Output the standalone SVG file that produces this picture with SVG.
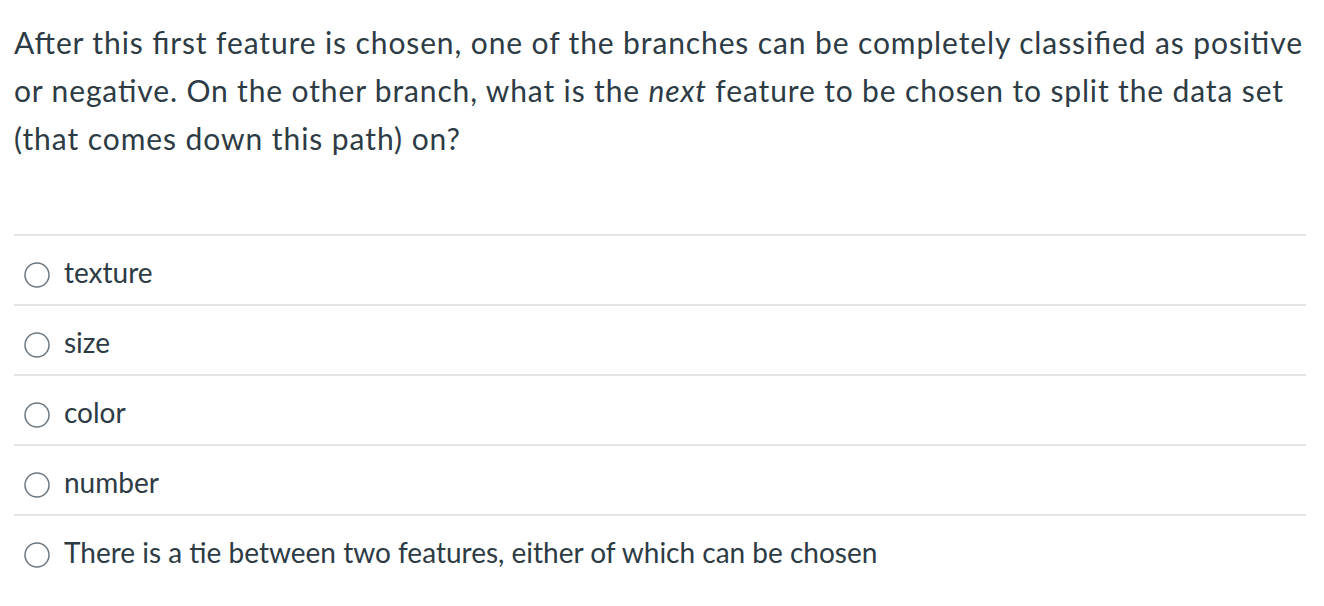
<svg xmlns="http://www.w3.org/2000/svg" width="1324" height="606" viewBox="0 0 1324 606">
<style>
.q{font-family:Lato,"Liberation Sans",sans-serif;font-size:30px;fill:#2d3b45}
.o{font-family:Lato,"Liberation Sans",sans-serif;font-size:28px;fill:#2d3b45}
.sep{stroke:#dcdcdc;stroke-width:1.5}
.r{fill:#fff;stroke:#6b7780;stroke-width:1.5}
</style>
<rect width="1324" height="606" fill="#fff"/>
<text class="q" x="14" y="54" textLength="1288" lengthAdjust="spacing">After this first feature is chosen, one of the branches can be completely classified as positive</text>
<text class="q" x="14" y="102" textLength="1269" lengthAdjust="spacing">or negative. On the other branch, what is the <tspan font-style="italic">next</tspan> feature to be chosen to split the data set</text>
<text class="q" x="14" y="150" textLength="446" lengthAdjust="spacing">(that comes down this path) on?</text>
<g>
<line class="sep" x1="14" y1="235" x2="1306" y2="235"/>
<line class="sep" x1="14" y1="305" x2="1306" y2="305"/>
<line class="sep" x1="14" y1="375" x2="1306" y2="375"/>
<line class="sep" x1="14" y1="445" x2="1306" y2="445"/>
<line class="sep" x1="14" y1="515" x2="1306" y2="515"/>
</g>
<g id="opt1"><circle class="r" cx="37" cy="275" r="12"/><text class="o" x="64" y="283">texture</text></g>
<g id="opt2"><circle class="r" cx="37" cy="345" r="12"/><text class="o" x="64" y="353">size</text></g>
<g id="opt3"><circle class="r" cx="37" cy="415" r="12"/><text class="o" x="64" y="423">color</text></g>
<g id="opt4"><circle class="r" cx="37" cy="485" r="12"/><text class="o" x="64" y="493">number</text></g>
<g id="opt5"><circle class="r" cx="37" cy="555" r="12"/><text class="o" x="64" y="563">There is a tie between two features, either of which can be chosen</text></g>
</svg>
